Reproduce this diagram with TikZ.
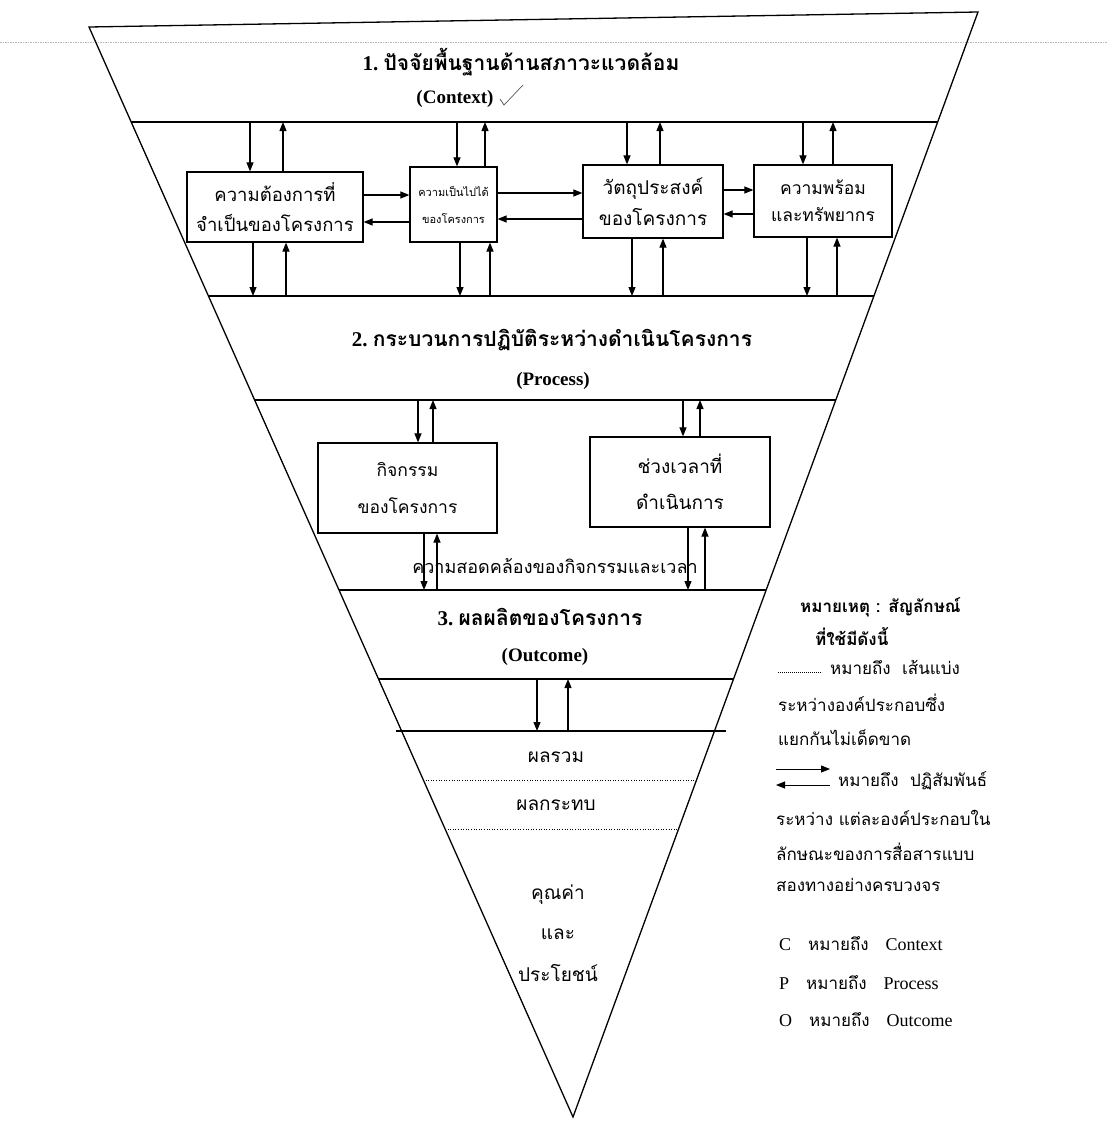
\documentclass[tikz,border=0pt]{standalone}
\usepackage{fontspec}
\setmainfont{Liberation Serif}
\newfontfamily\thai[Script=Thai]{Loma}
\usetikzlibrary{arrows.meta}
\tikzset{
  arr/.style={-{Triangle[length=9pt,width=7pt]}, line width=1.1pt},
  triedge/.style={line width=1.3pt, line join=miter},
  sepline/.style={line width=1.1pt},
  dotline/.style={line width=0.9pt, dash pattern=on 1pt off 1.6pt},
  box/.style={draw, line width=1.2pt, align=center, inner sep=0pt},
  ttl/.style={font=\bfseries\fontsize{21}{24}\selectfont, inner sep=0pt},
  subttl/.style={font=\bfseries\fontsize{19}{22}\selectfont, inner sep=0pt},
  lg/.style={anchor=west, font=\thai\fontsize{17}{20}\selectfont, inner sep=0pt},
  outtxt/.style={font=\thai\fontsize{19}{22}\selectfont, inner sep=0pt},
  lat/.style={},
}
\newcommand\vin[4]{\coordinate (#1) at (#2,#3); \draw[arr] (#1) -- (#1 |- #4);}
\newcommand\vout[4]{\coordinate (#1) at (#2,#3); \draw[arr] (#1 |- #4) -- (#1);}
\newcommand\latn[1]{{\rmfamily\fontsize{18}{20}\selectfont #1}}
\begin{document}
\begin{tikzpicture}[x=1pt,y=-1pt]
\path[use as bounding box] (0,0) rectangle (1107,1122);
\fill[white] (0,0) rectangle (1107,1122);
% scan artefact line
\draw[gray!55, line width=0.8pt, dash pattern=on 1.5pt off 1pt] (0,42) -- (1107,42);
% inverted triangle
\coordinate (TL) at (89,27);
\coordinate (TR) at (978,12);
\coordinate (AP) at (573,1117);
\draw[triedge] (TL) -- (TR) -- (AP) -- cycle;
% separators
\draw[sepline] (131,122) -- (937,122);
\draw[sepline] (208,296) -- (874,296);
\draw[sepline] (255,400) -- (836,400);
\draw[sepline] (339,590) -- (766,590);
\draw[sepline] (378,679) -- (733,679);
\draw[sepline] (396,731) -- (726,731);
\draw[dotline] (423,780) -- (696,780);
\draw[dotline] (445,829) -- (679,829);

% ---------- Section 1 ----------
\node[ttl] (t1) at (521,62) {1.\ {\thai ปัจจัยพื้นฐานด้านสภาวะแวดล้อม}};
\node[subttl] (ctx) at (455,99) {(Context)};
\draw[line width=0.7pt, gray!70!black] (500,99) -- (504,105) -- (523,85);

\node[box, minimum width=176, minimum height=70, font=\thai\fontsize{18.5}{30}\selectfont] (B1) at (275,207) {ความต้องการที่\\จำเป็นของโครงการ};
\node[box, minimum width=87, minimum height=75, font=\thai\fontsize{11}{27}\selectfont] (B2) at (453.5,204.5) {ความเป็นไปได้\\ของโครงการ};
\node[box, minimum width=140, minimum height=73, font=\thai\fontsize{19}{31}\selectfont] (B3) at (653,201.5) {วัตถุประสงค์\\ของโครงการ};
\node[box, minimum width=138, minimum height=72, font=\thai\fontsize{17.5}{27}\selectfont] (B4) at (823,201) {ความพร้อม\\และทรัพยากร};

% horizontal two-way arrows
\draw[arr] (B1.east |- 0,195) -- (B2.west |- 0,195);
\draw[arr] (B2.west |- 0,222) -- (B1.east |- 0,222);
\draw[arr] (B2.east |- 0,193) -- (B3.west |- 0,193);
\draw[arr] (B3.west |- 0,219) -- (B2.east |- 0,219);
\draw[arr] (B3.east |- 0,190) -- (B4.west |- 0,190);
\draw[arr] (B4.west |- 0,214) -- (B3.east |- 0,214);

% vertical arrows context
\vin{a1d}{250}{122}{B1.north} \vout{a1u}{283}{122}{B1.north}
\vin{a2d}{457}{122}{B2.north} \vout{a2u}{485}{122}{B2.north}
\vin{a3d}{627}{122}{B3.north} \vout{a3u}{660}{122}{B3.north}
\vin{a4d}{803}{122}{B4.north} \vout{a4u}{833}{122}{B4.north}
\vout{b1d}{253}{296}{B1.south} \vin{b1u}{286}{296}{B1.south}
\vout{b2d}{460}{296}{B2.south} \vin{b2u}{490}{296}{B2.south}
\vout{b3d}{632}{296}{B3.south} \vin{b3u}{663}{296}{B3.south}
\vout{b4d}{807}{296}{B4.south} \vin{b4u}{837}{296}{B4.south}

% ---------- Section 2 ----------
\node[ttl] (t2) at (552,340) {2.\ {\thai กระบวนการปฏิบัติระหว่างดำเนินโครงการ}};
\node[subttl] (proc) at (553,381) {(Process)};
\node[box, minimum width=179, minimum height=90, font=\thai\fontsize{17.5}{37}\selectfont] (P1) at (407.5,488) {กิจกรรม\\ของโครงการ};
\node[box, minimum width=180, minimum height=90, font=\thai\fontsize{19}{36}\selectfont] (P2) at (680,482) {ช่วงเวลาที่\\ดำเนินการ};
\node[font=\thai\fontsize{18}{20}\selectfont, inner sep=0pt] (sync) at (555,566) {ความสอดคล้องของกิจกรรมและเวลา};
\vin{p1d}{418}{400}{P1.north} \vout{p1u}{433}{400}{P1.north}
\vin{p2d}{683}{400}{P2.north} \vout{p2u}{700}{400}{P2.north}
\vout{q1d}{424}{590}{P1.south} \vin{q1u}{437}{590}{P1.south}
\vout{q2d}{688}{590}{P2.south} \vin{q2u}{705}{590}{P2.south}

% ---------- Section 3 ----------
\node[ttl] (t3) at (540,617) {3.\ {\thai ผลผลิตของโครงการ}};
\node[subttl] (outc) at (545,657) {(Outcome)};
\coordinate (o1) at (537,679); \coordinate (o1b) at (537,731);
\coordinate (o2) at (568,731); \coordinate (o2b) at (568,679);
\draw[arr] (o1) -- (o1b);
\draw[arr] (o2) -- (o2b);
\node[outtxt] (r1) at (556,757) {ผลรวม};
\node[outtxt] (r2) at (556,805) {ผลกระทบ};
\node[outtxt] (r3) at (558,895) {คุณค่า};
\node[outtxt] (r4) at (558,934) {และ};
\node[outtxt] (r5) at (558,973) {ประโยชน์};

% ---------- Legend ----------
\node[lg, font=\thai\bfseries\fontsize{17}{20}\selectfont] (n1) at (800,607) {หมายเหตุ : สัญลักษณ์};
\node[lg, font=\thai\bfseries\fontsize{17}{20}\selectfont] (n2) at (815,637) {ที่ใช้มีดังนี้};
\coordinate (d1) at (778,672); \coordinate (d2) at (822,672);
\draw[line width=0.7pt, dash pattern=on 0.8pt off 1.2pt] (d1) -- (d2);
\node[lg] (n3) at (830,667) {หมายถึง\ \ เส้นแบ่ง};
\node[lg] (n4) at (778,703) {ระหว่างองค์ประกอบซึ่ง};
\node[lg] (n5) at (778,738) {แยกกันไม่เด็ดขาด};
\coordinate (e1) at (776,769); \coordinate (e2) at (830,769);
\coordinate (e3) at (830,785); \coordinate (e4) at (776,785);
\draw[arr, line width=0.9pt] (e1) -- (e2);
\draw[arr, line width=0.9pt] (e3) -- (e4);
\node[lg] (n6) at (838,781) {หมายถึง\ \ ปฏิสัมพันธ์};
\node[lg] (n7) at (776,818) {ระหว่าง แต่ละองค์ประกอบใน};
\node[lg] (n8) at (776,852) {ลักษณะของการสื่อสารแบบ};
\node[lg] (n9) at (776,885) {สองทางอย่างครบวงจร};
\node[lg] (n10) at (779,944) {\latn{C}\quad หมายถึง\quad\latn{Context}};
\node[lg] (n11) at (779,983) {\latn{P}\quad หมายถึง\quad\latn{Process}};
\node[lg] (n12) at (779,1020) {\latn{O}\quad หมายถึง\quad\latn{Outcome}};
\end{tikzpicture}
\end{document}
